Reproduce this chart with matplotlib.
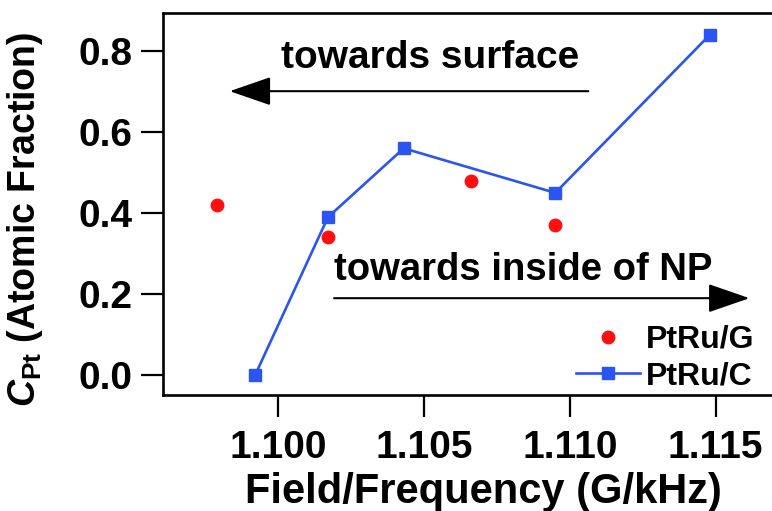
import matplotlib
matplotlib.use("Agg")
import matplotlib.pyplot as plt

plt.rcParams['font.family'] = ['Liberation Sans', 'DejaVu Sans']
plt.rcParams['font.weight'] = 'bold'
plt.rcParams['mathtext.fontset'] = 'custom'
plt.rcParams['mathtext.rm'] = 'Liberation Sans:bold'
plt.rcParams['mathtext.it'] = 'Liberation Sans:italic:bold'
plt.rcParams['mathtext.bf'] = 'Liberation Sans:bold'

# Data
g_x = [1.0979, 1.1017, 1.1066, 1.1095]
g_y = [0.42, 0.34, 0.48, 0.37]
c_x = [1.0992, 1.1017, 1.1043, 1.1095, 1.1148]
c_y = [0.00, 0.39, 0.56, 0.45, 0.84]
x_ticks = [1.100, 1.105, 1.110, 1.115]
x_ticklabels = ['1.100', '1.105', '1.110', '1.115']
y_ticks = [0.0, 0.2, 0.4, 0.6, 0.8]
y_ticklabels = ['0.0', '0.2', '0.4', '0.6', '0.8']

W, H = 772, 511
fig = plt.figure(figsize=(W/100, H/100), dpi=100)
ax = fig.add_axes([163/W, 116/H, 1 - 163/W + 0.01, (395-13)/H])

ax.plot(g_x, g_y, linestyle='none', marker='o', color='#ff1010', markersize=9,
        label='PtRu/G')
ax.plot(c_x, c_y, linestyle='-', color='#2b55f0', linewidth=1.9, marker='s',
        markersize=8.8, markerfacecolor='#2b55f0', markeredgecolor='#2b55f0', label='PtRu/C')

ax.set_xlim(1.09604, 1.1172)
ax.set_ylim(-0.049, 0.894)
ax.set_xticks(x_ticks)
ax.set_xticklabels(x_ticklabels)
ax.set_yticks(y_ticks)
ax.set_yticklabels(y_ticklabels)
ax.tick_params(direction='out', length=16, width=1.6, labelsize=28, pad=6)
ax.tick_params(axis='x', pad=9)
for s in ['left', 'bottom', 'top']:
    ax.spines[s].set_linewidth(1.9)
ax.spines['right'].set_visible(False)

ax.set_xlabel('Field/Frequency (G/kHz)', fontsize=30, fontweight='bold')
ax.set_ylabel(r'$\mathit{C}_{\mathrm{Pt}}$ (Atomic Fraction)', fontsize=27,
              fontweight='bold')
axw = W*(1 - 163/W + 0.01)
axh = 395 - 13
ax.xaxis.set_label_coords((483-163)/axw, -(492-395)/axh)
ax.xaxis.label.set_va('center')
ax.yaxis.set_label_coords((25-163)/axw, (395-219)/axh)
ax.yaxis.label.set_va('center')

# Arrows and annotations
arrow_kw = dict(arrowstyle='-|>,head_length=2.6,head_width=0.9',
                color='black', lw=1.5, shrinkA=0, shrinkB=0, mutation_scale=10)
ax.annotate('', xy=(1.09833, 0.701), xytext=(1.11063, 0.701),
            arrowprops=arrow_kw)
ax.text(1.10521, 0.783, 'towards surface', fontsize=28, fontweight='bold',
        ha='center', va='center')
ax.annotate('', xy=(1.11616, 0.190), xytext=(1.10191, 0.190),
            arrowprops=arrow_kw, annotation_clip=False)
ax.text(1.10191, 0.259, 'towards inside of NP', fontsize=27.5, fontweight='bold',
        ha='left', va='center')

ax.legend(loc='center left', bbox_to_anchor=(576/W, (H-358)/H),
          bbox_transform=fig.transFigure, frameon=False,
          fontsize=23, handlelength=2.0, handletextpad=0.2, labelspacing=0.2,
          borderaxespad=0, borderpad=0)

fig.savefig('out.png', dpi=100)
